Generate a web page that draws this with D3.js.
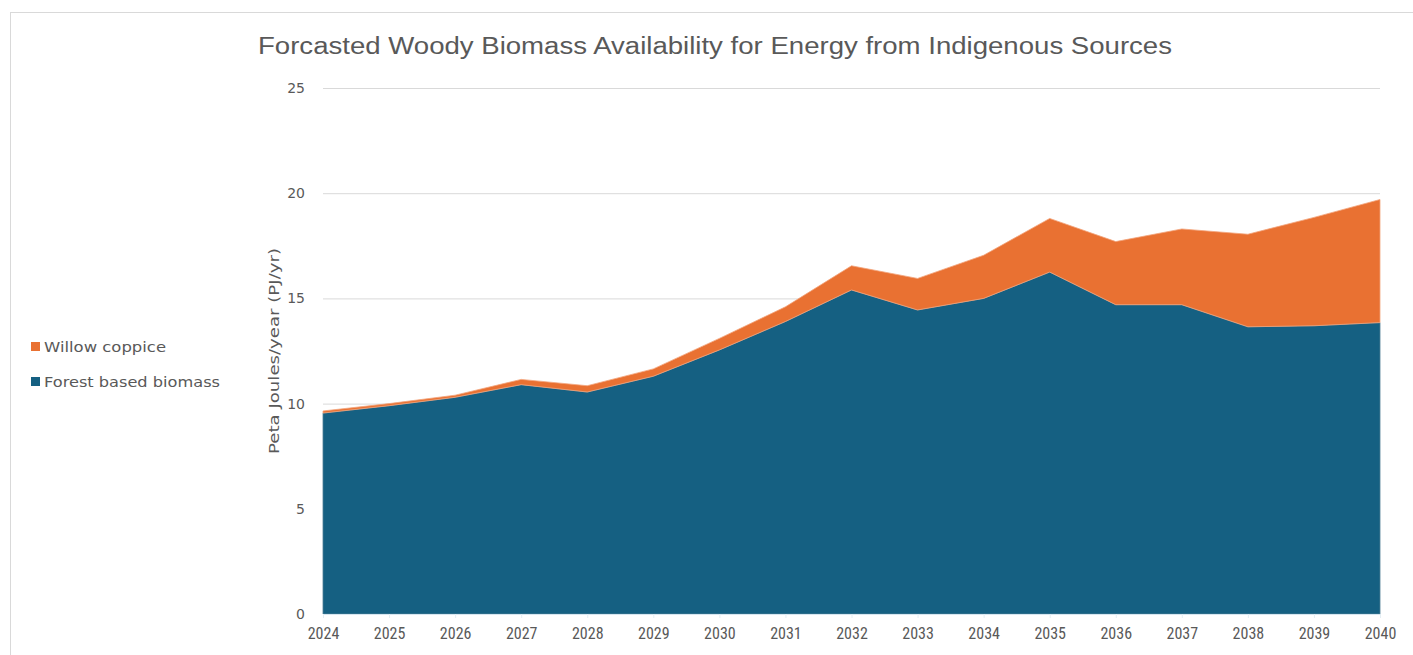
<!DOCTYPE html>
<html>
<head>
<meta charset="utf-8">
<script src="https://cdn.jsdelivr.net/npm/d3@7/dist/d3.min.js"></script>
<style>
  html, body { margin: 0; padding: 0; background: #ffffff; }
  svg { display: block; }
</style>
</head>
<body>
<svg id="chart" width="1413" height="655"></svg>
<script>
// Forecast years
const years = [2024, 2025, 2026, 2027, 2028, 2029, 2030, 2031, 2032, 2033, 2034, 2035, 2036, 2037, 2038, 2039, 2040];
// Forest based biomass (PJ/yr)
const forestBased = [9.55, 9.9, 10.3, 10.9, 10.55, 11.3, 12.55, 13.9, 15.4, 14.45, 15.0, 16.25, 14.7, 14.7, 13.65, 13.7, 13.85];
// Willow coppice (PJ/yr)
const willowCoppice = [0.1, 0.1, 0.1, 0.25, 0.3, 0.35, 0.55, 0.7, 1.15, 1.5, 2.05, 2.55, 3.0, 3.6, 4.4, 5.15, 5.85];
const yTicks = [0, 5, 10, 15, 20, 25];
const seriesNames = ["Forest based biomass", "Willow coppice"];
const seriesColors = ["#156082", "#E97132"];

const svg = d3.select("#chart");
const plotLeft = 323, plotRight = 1380, plotTop = 88, plotBottom = 614;
const textColor = "#595959";
const bodyFont = "'DejaVu Sans', Verdana, sans-serif";

// card frame
svg.append("rect")
  .attr("x", 10.5).attr("y", 12.5)
  .attr("width", 1420).attr("height", 660)
  .attr("fill", "none").attr("stroke", "#d9d9d9").attr("stroke-width", 1);

const x = d3.scaleLinear().domain([years[0], years[years.length - 1]]).range([plotLeft, plotRight]);
const y = d3.scaleLinear().domain([0, 25]).range([plotBottom, plotTop]);

const table = years.map((yr, i) => ({ year: yr, forest: forestBased[i], willow: willowCoppice[i] }));
const stack = d3.stack().keys(["forest", "willow"]);
const layers = stack(table);

// gridlines
svg.append("g")
  .selectAll("line")
  .data(yTicks.filter(t => t > 0))
  .join("line")
  .attr("x1", plotLeft).attr("x2", plotRight)
  .attr("y1", d => y(d) + 0.5).attr("y2", d => y(d) + 0.5)
  .attr("stroke", "#d9d9d9").attr("stroke-width", 1);

// stacked areas
const area = d3.area()
  .x(d => x(d.data.year))
  .y0(d => y(d[0]))
  .y1(d => y(d[1]));

svg.append("g")
  .selectAll("path")
  .data(layers)
  .join("path")
  .attr("d", area)
  .attr("fill", (d, i) => seriesColors[i])
  .attr("stroke", (d, i) => i === 0 ? "#4f7f95" : "#f2a57c")
  .attr("stroke-width", 0.8)
  .attr("stroke-linejoin", "round");

// baseline
svg.append("line")
  .attr("x1", plotLeft).attr("x2", plotRight)
  .attr("y1", plotBottom + 0.5).attr("y2", plotBottom + 0.5)
  .attr("stroke", "#d6e6f0").attr("stroke-width", 1);

// x axis
const xAxis = d3.axisBottom(x)
  .tickValues(years)
  .tickFormat(d3.format("d"))
  .tickSize(4)
  .tickPadding(10);
const gx = svg.append("g").attr("transform", `translate(0,${plotBottom})`).call(xAxis);
gx.select(".domain").remove();
gx.selectAll(".tick line").attr("stroke", "#e4eef4");
gx.selectAll(".tick text")
  .attr("fill", textColor)
  .attr("font-family", "'Liberation Sans Narrow', 'Roboto Condensed', 'Liberation Sans', sans-serif")
  .attr("font-size", 16);

// y axis
const yAxis = d3.axisLeft(y)
  .tickValues(yTicks)
  .tickSize(0)
  .tickPadding(18);
const gy = svg.append("g").attr("transform", `translate(${plotLeft},0)`).call(yAxis);
gy.select(".domain").remove();
gy.selectAll(".tick text")
  .attr("fill", textColor)
  .attr("font-family", bodyFont)
  .attr("font-size", 14);

// y axis title
svg.append("text")
  .attr("transform", `translate(274,351) rotate(-90)`)
  .attr("text-anchor", "middle")
  .attr("dy", "0.35em")
  .attr("fill", textColor)
  .attr("font-family", bodyFont)
  .attr("font-size", 14)
  .attr("textLength", 206)
  .attr("lengthAdjust", "spacingAndGlyphs")
  .text("Peta Joules/year (PJ/yr)");

// title
svg.append("text")
  .attr("x", 715).attr("y", 54)
  .attr("text-anchor", "middle")
  .attr("fill", textColor)
  .attr("font-family", "'Liberation Sans Narrow', 'Liberation Sans', sans-serif")
  .attr("font-size", 23)
  .attr("textLength", 914)
  .attr("lengthAdjust", "spacingAndGlyphs")
  .text("Forcasted Woody Biomass Availability for Energy from Indigenous Sources");

// legend (willow listed first)
const legendItems = [
  { name: seriesNames[1], color: seriesColors[1], len: 122 },
  { name: seriesNames[0], color: seriesColors[0], len: 176 }
];
const legend = svg.append("g")
  .selectAll("g")
  .data(legendItems)
  .join("g")
  .attr("transform", (d, i) => `translate(31,${342 + i * 35})`);
legend.append("rect")
  .attr("width", 9).attr("height", 9)
  .attr("fill", d => d.color);
legend.append("text")
  .attr("x", 13).attr("y", 10)
  .attr("fill", textColor)
  .attr("font-family", bodyFont)
  .attr("font-size", 14.5)
  .attr("textLength", d => d.len)
  .attr("lengthAdjust", "spacingAndGlyphs")
  .text(d => d.name);
</script>
</body>
</html>
